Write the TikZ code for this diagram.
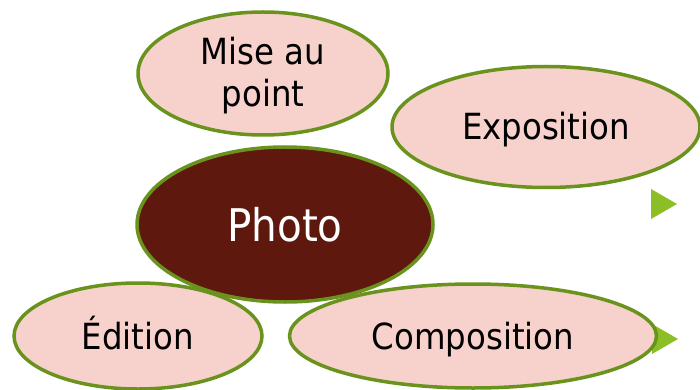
\documentclass[tikz,border=0pt]{standalone}
\usepackage{fontspec}
\setmainfont{DejaVu Sans Condensed}
\usetikzlibrary{shapes.geometric}
\definecolor{pinkfill}{HTML}{F7D1CC}
\definecolor{olive}{HTML}{6A931D}
\definecolor{photofill}{HTML}{5F180E}
\definecolor{trigreen}{HTML}{8CBF26}
\tikzset{
  ell/.style={ellipse, draw=olive, line width=3.5pt, inner sep=0pt, outer sep=0pt,
    font=\fontsize{36}{42}\selectfont, text height=26pt, text depth=0pt},
  pinkell/.style={ell, fill=pinkfill, text=black},
  photoell/.style={ell, fill=photofill, text=white, font=\fontsize{45}{52}\selectfont, text height=33pt},
  lbl/.style={font=\fontsize{36}{42}\selectfont, anchor=base, inner sep=0pt},
  tri/.style={fill=trigreen, draw=none}
}
\begin{document}
\begin{tikzpicture}[x=1pt,y=-1pt]
\useasboundingbox (0,0) rectangle (700,390);
% triangles
\coordinate (t1a) at (651,189); \coordinate (t1b) at (651,219); \coordinate (t1c) at (677,204);
\coordinate (t2a) at (652,324); \coordinate (t2b) at (652,354); \coordinate (t2c) at (678,339);
\fill[tri] (t1a) -- (t1c) -- (t1b) -- cycle;
\fill[tri] (t2a) -- (t2c) -- (t2b) -- cycle;
% ellipses
\node[pinkell, minimum width=250pt, minimum height=123pt] (mise) at (263,73.5) {};
\node[lbl] (misetxt) at (263,65) {Mise au};
\node[lbl] (misetxt2) at (263,107) {point};
\node[pinkell, minimum width=308pt, minimum height=121pt] (expo) at (546,127) {Exposition};
\node[pinkell, minimum width=248pt, minimum height=106pt] (edit) at (138,336) {Édition};
\node[pinkell, minimum width=367pt, minimum height=104pt] (comp) at (473,336) {Composition};
\node[photoell, minimum width=296pt, minimum height=155pt] (photo) at (285,224.5) {Photo};
\end{tikzpicture}
\end{document}
